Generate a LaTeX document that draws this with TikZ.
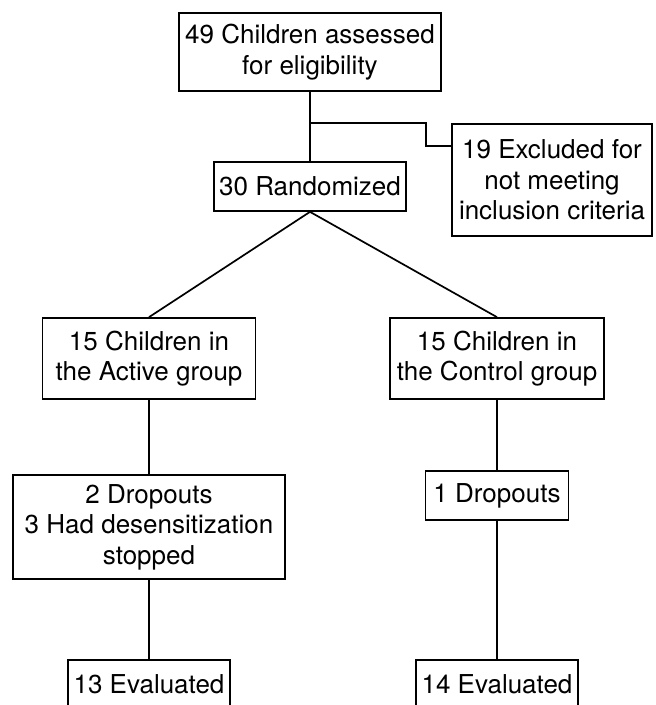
\documentclass[tikz,border=0pt]{standalone}
\usepackage{fontspec}
\setmainfont{TeX Gyre Heros}
\begin{document}
\begin{tikzpicture}[x=1pt,y=-1pt,
  box/.style={draw=black,line width=1.7pt,rectangle,inner sep=0pt,align=center,
    font=\fontsize{26}{30.5}\selectfont},
  conn/.style={draw=black,line width=1.7pt}]
\useasboundingbox (0,0) rectangle (656,705);
\clip (0,0) rectangle (656,705);
\fill[white] (0,0) rectangle (656,705);
\node[box,minimum width=262pt,minimum height=78pt] (top) at (310,52) {49 Children assessed\\for eligibility};
\node[box,minimum width=200pt,minimum height=112pt] (excl) at (552,180) {19 Excluded for\\not meeting\\inclusion criteria};
\node[box,minimum width=192pt,minimum height=49pt] (rand) at (310,186.5) {30 Randomized};
\node[box,minimum width=213pt,minimum height=81pt] (act) at (149,358.5) {15 Children in\\the Active group};
\node[box,minimum width=214pt,minimum height=81pt] (ctl) at (497,358.5) {15 Children in\\the Control group};
\node[box,minimum width=272pt,minimum height=104pt] (dropa) at (149,527) {2 Dropouts\\3 Had desensitization\\stopped};
\node[box,minimum width=143pt,minimum height=49pt] (dropc) at (497,495.5) {1 Dropouts};
\node[box,minimum width=162pt,minimum height=49pt] (evala) at (149,684.5) {13 Evaluated};
\node[box,minimum width=162pt,minimum height=49pt] (evalc) at (497,684.5) {14 Evaluated};
\coordinate (br) at (310,123);
\coordinate (bk) at (426,146);
\draw[conn] (top.south) -- (rand.north);
\draw[conn] (br) -| (bk) -- (bk -| excl.west);
\draw[conn] (rand.south) -- (act.north);
\draw[conn] (rand.south) -- (ctl.north);
\draw[conn] (act.south) -- (dropa.north);
\draw[conn] (dropa.south) -- (evala.north);
\draw[conn] (ctl.south) -- (dropc.north);
\draw[conn] (dropc.south) -- (evalc.north);
\end{tikzpicture}
\end{document}
